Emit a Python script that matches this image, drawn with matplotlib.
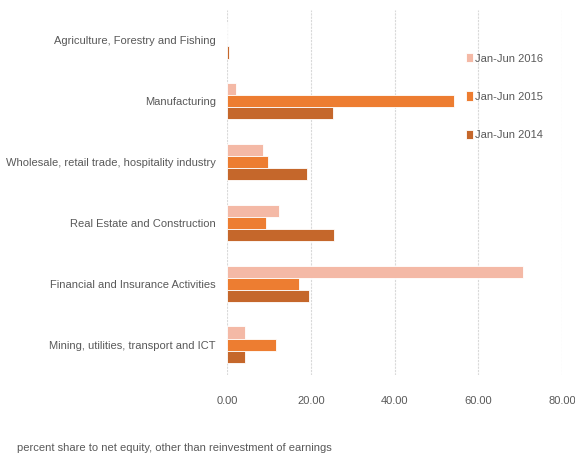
import numpy as np
import matplotlib.pyplot as plt

# data
categories = ['Agriculture, Forestry and Fishing', 'Manufacturing',
              'Wholesale, retail trade, hospitality industry',
              'Real Estate and Construction', 'Financial and Insurance Activities',
              'Mining, utilities, transport and ICT']
jan_jun_2016 = [0.0, 2.2, 8.7, 12.3, 70.6, 4.2]
jan_jun_2015 = [0.0, 54.3, 9.8, 9.3, 17.3, 11.6]
jan_jun_2014 = [0.4, 25.3, 19.0, 25.6, 19.5, 4.4]
series = [('Jan-Jun 2016', jan_jun_2016, '#F4B9A6'),
          ('Jan-Jun 2015', jan_jun_2015, '#ED7D31'),
          ('Jan-Jun 2014', jan_jun_2014, '#C5672B')]
xticks = [0, 20, 40, 60, 80]

plt.rcParams['font.family'] = ['Liberation Sans', 'DejaVu Sans']
txt = '#595959'
fs = 8

fig = plt.figure(figsize=(5.75, 4.61), dpi=100)
ax = fig.add_axes([227 / 575, 1 - 375 / 461, (562 - 227) / 575, 365 / 461])

y = np.arange(len(categories))
h = 0.2
for i, (name, vals, col) in enumerate(series):
    ax.barh(y + (i - 1) * h, vals, height=h, color=col, label=name,
            edgecolor='white', linewidth=0.6, zorder=3)

ax.set_ylim(len(categories) - 0.5, -0.5)
ax.set_xlim(0, 80)
ax.set_yticks(y)
ax.set_yticklabels(categories, color=txt, fontsize=fs)
ax.set_xticks(xticks)
ax.set_xticklabels(['%.2f' % v for v in xticks], color=txt, fontsize=fs)
ax.tick_params(axis='y', length=0, pad=8)
ax.tick_params(axis='x', length=0, pad=15)
for s in ax.spines.values():
    s.set_visible(False)
ax.grid(axis='x', color='#D9D9D9', linestyle=(0, (2, 1)), linewidth=0.8, zorder=0)

leg = ax.legend(loc='upper left', bbox_to_anchor=(0.685, 0.909), frameon=False,
                fontsize=fs, handlelength=0.6, handleheight=0.9,
                handletextpad=0.2, labelspacing=2.5)
for t in leg.get_texts():
    t.set_color(txt)

fig.text(17 / 575, 1 - 448 / 461, 'percent share to net equity, other than reinvestment of earnings',
         color=txt, fontsize=fs, va='center')

fig.savefig('out.png', dpi=100)
